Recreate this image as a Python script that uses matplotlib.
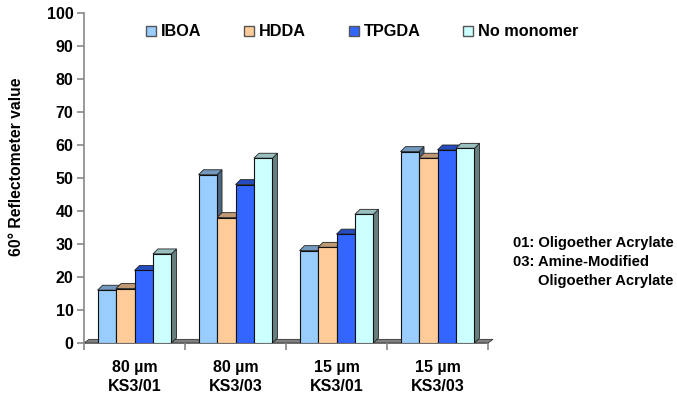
import matplotlib
matplotlib.use("Agg")
import matplotlib.pyplot as plt
from matplotlib.patches import Polygon, Patch
import numpy as np

plt.rcParams['font.family'] = ['Liberation Sans', 'DejaVu Sans']
plt.rcParams['font.weight'] = 'bold'

groups = ["80 µm\nKS3/01", "80 µm\nKS3/03", "15 µm\nKS3/01", "15 µm\nKS3/03"]
series = ["IBOA", "HDDA", "TPGDA", "No monomer"]
iboa = [16, 51, 28, 58]
hdda = [16.5, 38, 29, 56]
tpgda = [22, 48, 33, 58.5]
no_monomer = [27, 56, 39, 59]
values = [iboa, hdda, tpgda, no_monomer]
y_ticks = list(range(0, 101, 10))

front_colors = ["#99CCFF", "#FFCC99", "#3366FF", "#CCFFFF"]

def shade(hexc, f):
    c = np.array(matplotlib.colors.to_rgb(hexc))
    return tuple(c * f)

fig = plt.figure(figsize=(6.77, 3.96), dpi=100)
ax = fig.add_axes([84/677, 1-343/396, (488-84)/677, (343-13)/396])
ax.set_xlim(-0.5, 3.5)
ax.set_ylim(0, 100)

w = 0.183
dx = 5/101
dy = 1.5

# floor
fdx, fdy = 5/101, 1.1
floor = Polygon([(-0.5, 0), (3.5, 0), (3.5 + fdx, fdy), (-0.5 + fdx, fdy)],
                closed=True, facecolor="#808080", edgecolor="#333333", lw=0.6,
                zorder=1, clip_on=False)
ax.add_patch(floor)

z = 2
for gi in range(len(groups)):
    for si in range(len(series)):
        v = values[si][gi]
        x = gi + (si - 1.5) * w
        col = front_colors[si]
        xl, xr = x - w/2, x + w/2
        side = Polygon([(xr, 0), (xr + dx, dy), (xr + dx, v + dy), (xr, v)], closed=True,
                       facecolor=shade(col, 0.5), edgecolor="#222222", lw=0.6, zorder=z)
        top = Polygon([(xl, v), (xr, v), (xr + dx, v + dy), (xl + dx, v + dy)], closed=True,
                      facecolor=shade(col, 0.75), edgecolor="#222222", lw=0.6, zorder=z)
        ax.add_patch(side)
        ax.add_patch(top)
        ax.bar(x, v, width=w, color=col, edgecolor="#111111", lw=0.8, zorder=z + 0.5)
        z += 1

for s in ["top", "right"]:
    ax.spines[s].set_visible(False)
for s in ["left", "bottom"]:
    ax.spines[s].set_color("#888888")
    ax.spines[s].set_linewidth(1.2)
ax.spines["bottom"].set_zorder(0.5)

ax.set_yticks(y_ticks)
ax.set_yticklabels([str(t) for t in y_ticks], fontsize=11.5, fontweight='bold')
ax.tick_params(axis='y', direction='out', length=5, width=1.2, color="#888888", pad=2.5)

ax.set_xticks(np.arange(-0.5, 3.6, 1.0))
ax.set_xticklabels([])
ax.tick_params(axis='x', which='major', direction='out', length=5, width=1.2, color="#888888")
ax.set_xticks(np.arange(len(groups)), minor=True)
ax.set_xticklabels(groups, minor=True, fontsize=11.5, fontweight='bold', linespacing=1.35)
ax.tick_params(axis='x', which='minor', length=0, pad=12)

fig.text(17/677, 1-167/396, "60° Reflectometer value", rotation=90, fontsize=11.3,
         fontweight='bold', ha='center', va='center')

handles = [Patch(facecolor=c, edgecolor="#555555", lw=1.0) for c in front_colors]
leg = fig.legend(handles, series, loc='center left', bbox_to_anchor=(146/677, 1-32/396),
                 ncol=4, frameon=False, fontsize=11.7, handlelength=0.62, handleheight=0.62,
                 handletextpad=0.32, columnspacing=2.6, borderaxespad=0, borderpad=0)
for t in leg.get_texts():
    t.set_fontweight('bold')

fig.text(513/677, 1-243/396, "01: Oligoether Acrylate", fontsize=10.6, fontweight='bold',
         ha='left', va='center')
fig.text(513/677, 1-262/396, "03: Amine-Modified", fontsize=10.6, fontweight='bold',
         ha='left', va='center')
fig.text(538/677, 1-281/396, "Oligoether Acrylate", fontsize=10.6, fontweight='bold',
         ha='left', va='center')

fig.savefig("out.png", dpi=100)
